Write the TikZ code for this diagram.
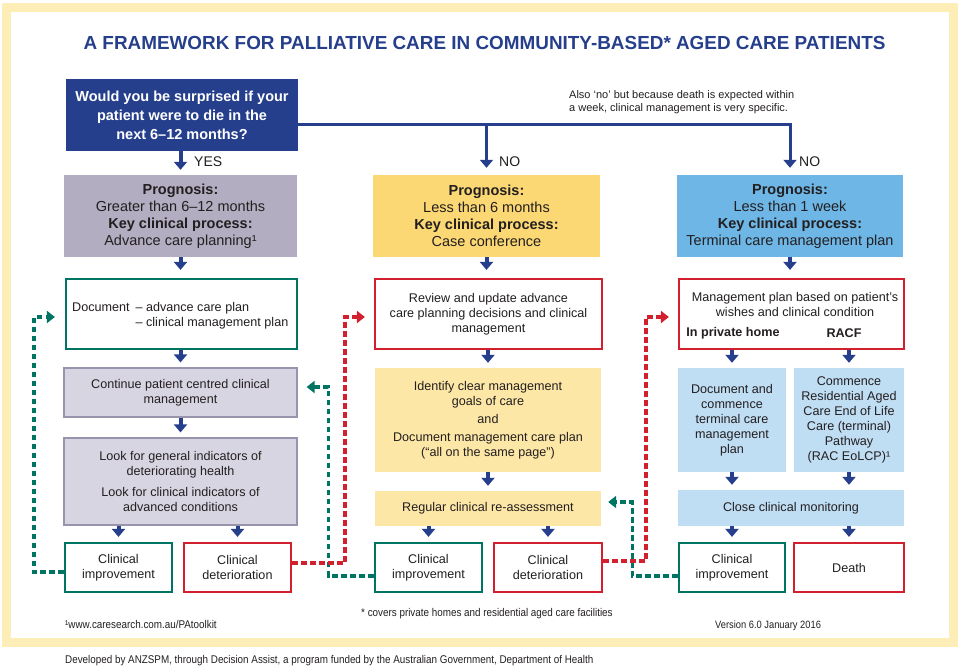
\documentclass[tikz,border=0pt]{standalone}
\usepackage{fontspec}
\setmainfont{Liberation Sans}
\newfontfamily\narrowfont[FakeStretch=0.88]{Liberation Sans}
\usetikzlibrary{arrows.meta}
\definecolor{dblue}{HTML}{263F8C}
\definecolor{hgray}{HTML}{B2ADC0}
\definecolor{hyel}{HTML}{FCD874}
\definecolor{hblue}{HTML}{6DB6E6}
\definecolor{lav}{HTML}{D8D5E2}
\definecolor{lavb}{HTML}{9A93AE}
\definecolor{lyel}{HTML}{FDE7A6}
\definecolor{lblue}{HTML}{BFDDF3}
\definecolor{grn}{HTML}{007463}
\definecolor{redc}{HTML}{D2202E}
\definecolor{framey}{HTML}{FDEDB6}
\definecolor{txt}{HTML}{231F20}
\begin{document}
\begin{tikzpicture}[x=1pt,y=-1pt,
  base/.style={inner sep=0pt, align=center, text=txt},
  hdr/.style={base, font=\fontsize{14.5}{17}\selectfont, minimum height=82pt},
  body/.style={base, font=\fontsize{12.6}{15}\selectfont},
  gbox/.style={body, draw=grn, line width=2.2pt, fill=white},
  rbox/.style={body, draw=redc, line width=2.2pt, fill=white},
  lavbox/.style={body, fill=lav, draw=lavb, line width=1.2pt},
  lyelbox/.style={body, fill=lyel},
  lbluebox/.style={body, fill=lblue},
  small/.style={base, anchor=west, font=\narrowfont\fontsize{11.2}{13}\selectfont},
  arr/.style={draw=dblue, line width=4pt, -{Triangle[width=13pt,length=8pt]}, shorten >=5pt},
  gdash/.style={draw=grn, line width=3.4pt, dash pattern=on 5.5pt off 3.5pt, -{Triangle[width=12pt,length=8pt]}},
  rdash/.style={draw=redc, line width=3.4pt, dash pattern=on 5.5pt off 3.5pt, -{Triangle[width=12pt,length=8pt]}}
]
\fill[framey] (2,3) rectangle (958,647);
\fill[white] (11,12) rectangle (949,638);
\useasboundingbox (0,0) rectangle (959,672);

\node[base, text=dblue, font=\bfseries\fontsize{18.9}{22}\selectfont] (title) at (484.5,43)
  {A FRAMEWORK FOR PALLIATIVE CARE IN COMMUNITY-BASED* AGED CARE PATIENTS};

\node[base, fill=dblue, text=white, font=\bfseries\fontsize{14.5}{19}\selectfont,
  minimum width=232pt, minimum height=72pt] (q) at (182,115)
  {Would you be surprised if your\\patient were to die in the\\next 6–12 months?};

\node[base, anchor=west, align=left, font=\fontsize{11}{13}\selectfont] (note) at (569,102.5)
  {Also ‘no’ but because death is expected within\\a week, clinical management is very specific.};

\node[base, anchor=west, font=\fontsize{14}{16}\selectfont] (yes) at (194,162) {YES};
\node[base, anchor=west, font=\fontsize{14}{16}\selectfont] (no1) at (499,162) {NO};
\node[base, anchor=west, font=\fontsize{14}{16}\selectfont] (no2) at (799,162) {NO};

% headers
\node[hdr, fill=hgray, minimum width=233pt] (h1) at (180.5,216)
  {\textbf{Prognosis:}\\Greater than 6–12 months\\\textbf{Key clinical process:}\\Advance care planning¹};
\node[hdr, fill=hyel, minimum width=227pt] (h2) at (486.5,216)
  {\textbf{Prognosis:}\\Less than 6 months\\\textbf{Key clinical process:}\\Case conference};
\node[hdr, fill=hblue, minimum width=226pt] (h3) at (790,216)
  {\textbf{Prognosis:}\\Less than 1 week\\\textbf{Key clinical process:}\\Terminal care management plan};

% left column
\node[gbox, minimum width=231pt, minimum height=70pt] (b2) at (181.5,314) {};
\node[body, anchor=west, align=left] (b2t) at (72,315.5)
  {\begin{tabular}{@{}l@{\hspace{6pt}}l@{}}Document & – advance care plan\\ & – clinical management plan\end{tabular}};
\node[lavbox, minimum width=233pt, minimum height=49pt] (b3) at (180.5,392.5)
  {Continue patient centred clinical\\management};
\node[lavbox, minimum width=233pt, minimum height=87pt] (b4) at (180.5,481.5)
  {Look for general indicators of\\deteriorating health\\[6pt]Look for clinical indicators of\\advanced conditions};
\node[gbox, minimum width=107pt, minimum height=49pt] (ci1) at (118.5,567.5) {Clinical\\improvement};
\node[rbox, minimum width=107pt, minimum height=49pt] (cd1) at (237.5,567.5) {Clinical\\deterioration};

% middle column
\node[rbox, minimum width=227pt, minimum height=70pt] (m1) at (488.5,314)
  {Review and update advance\\care planning decisions and clinical\\management};
\node[lyelbox, minimum width=226pt, minimum height=104pt] (m2) at (488,420)
  {Identify clear management\\goals of care\\[3pt]and\\[3pt]Document management care plan\\(“all on the same page”)};
\node[lyelbox, minimum width=226pt, minimum height=35pt] (m3) at (488,508.5)
  {Regular clinical re-assessment};
\node[gbox, minimum width=107pt, minimum height=49pt] (ci2) at (428.5,567.5) {Clinical\\improvement};
\node[rbox, minimum width=108pt, minimum height=49pt] (cd2) at (548,567.5) {Clinical\\deterioration};

% right column
\node[rbox, minimum width=225pt, minimum height=70pt] (r1) at (791.5,314) {};
\node[body] (r1t) at (795,304.5) {Management plan based on patient’s\\wishes and clinical condition};
\node[body, font=\bfseries\fontsize{12.6}{15}\selectfont] (r1a) at (733,333) {In private home};
\node[body, font=\bfseries\fontsize{12.6}{15}\selectfont] (r1b) at (844,333) {RACF};
\node[lbluebox, minimum width=108pt, minimum height=104pt] (r2a) at (732,420)
  {Document and\\commence\\terminal care\\management\\plan};
\node[lbluebox, minimum width=110pt, minimum height=104pt] (r2b) at (849,420)
  {Commence\\Residential Aged\\Care End of Life\\Care (terminal)\\Pathway\\(RAC EoLCP)¹};
\node[lbluebox, minimum width=226pt, minimum height=36pt] (r3) at (791,508) {Close clinical monitoring};
\node[gbox, minimum width=106pt, minimum height=49pt] (ci3) at (732,567.5) {Clinical\\improvement};
\node[rbox, minimum width=110pt, minimum height=49pt] (de) at (849,567.5) {Death};

% footnotes
\node[small] (fn1) at (65,624) {¹www.caresearch.com.au/PAtoolkit};
\node[small] (fn2) at (361,614) {* covers private homes and residential aged care facilities};
\node[small, font=\narrowfont\fontsize{10.6}{12}\selectfont] (ver) at (715,626) {Version 6.0 January 2016};
\node[small] (dev) at (65,661) {Developed by ANZSPM, through Decision Assist, a program funded by the Australian Government, Department of Health};

% blue connectors
\draw[arr] (q.south -| h1.north) -- (h1.north);
\draw[arr, line width=3pt, shorten >=7pt] (q.east |- 0,124) -| (h3.north);
\draw[arr, line width=3pt, shorten >=7pt] (h2.north |- 0,124) -- (h2.north);

\draw[arr, shorten >=8pt] (h1.south) -- (b2.north -| h1.south);
\draw[arr] (b2.south -| b3.north) -- (b3.north);
\draw[arr] (b3.south) -- (b4.north);
\draw[arr] (b4.south -| ci1.north) -- (ci1.north);
\draw[arr] (b4.south -| cd1.north) -- (cd1.north);

\draw[arr, shorten >=8pt] (h2.south) -- (m1.north -| h2.south);
\draw[arr] (m1.south -| m2.north) -- (m2.north);
\draw[arr] (m2.south) -- (m3.north);
\draw[arr] (m3.south -| ci2.north) -- (ci2.north);
\draw[arr] (m3.south -| cd2.north) -- (cd2.north);

\draw[arr, shorten >=8pt] (h3.south) -- (r1.north -| h3.south);
\draw[arr] (r1.south -| r2a.north) -- (r2a.north);
\draw[arr] (r1.south -| r2b.north) -- (r2b.north);
\draw[arr] (r2a.south) -- (r2a.south |- r3.north);
\draw[arr] (r2b.south) -- (r2b.south |- r3.north);
\draw[arr] (r3.south -| ci3.north) -- (ci3.north);
\draw[arr] (r3.south -| de.north) -- (de.north);

% dashed feedback connectors
\draw[gdash] ([yshift=-4.5pt]ci1.west) -| ([xshift=-31pt,yshift=-3pt]b2.west) -- ([xshift=-10pt,yshift=-3pt]b2.west);
\draw[gdash] ([yshift=-8.5pt]ci2.west) -| ([xshift=31pt,yshift=5.5pt]b3.east) -- ([xshift=9pt,yshift=5.5pt]b3.east);
\draw[rdash] ([yshift=4.5pt]cd1.east) -| ([xshift=-29pt,yshift=-3pt]m1.west) -- ([xshift=-9pt,yshift=-3pt]m1.west);
\draw[gdash] ([yshift=-8.5pt]ci3.west) -| ([xshift=31pt,yshift=6.5pt]m3.east) -- ([xshift=7pt,yshift=6.5pt]m3.east);
\draw[rdash] ([yshift=6.5pt]cd2.east) -| ([xshift=-32pt,yshift=-3pt]r1.west) -- ([xshift=-9pt,yshift=-3pt]r1.west);
\end{tikzpicture}
\end{document}
